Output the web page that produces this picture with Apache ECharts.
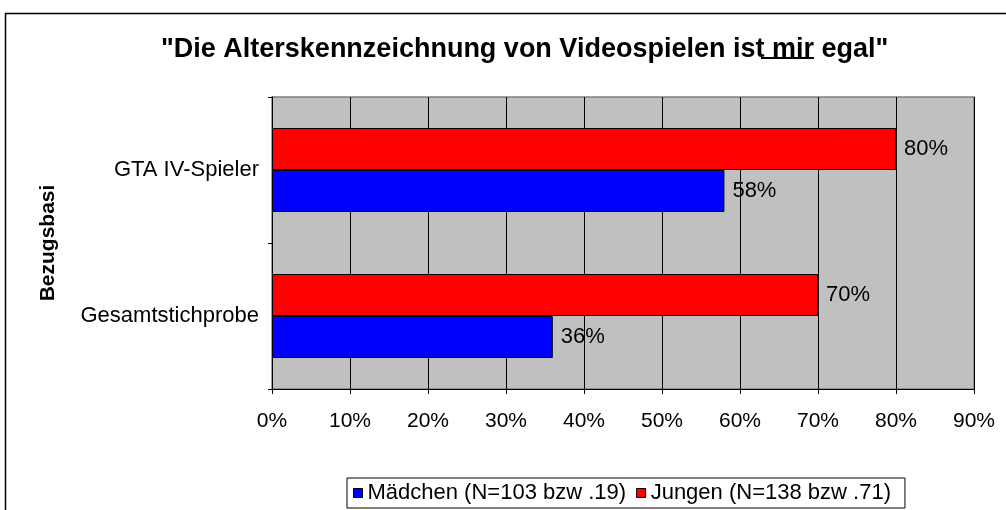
<!DOCTYPE html>
<html>
<head>
<meta charset="utf-8">
<title>Alterskennzeichnung</title>
<script src="https://cdn.jsdelivr.net/npm/echarts@6/dist/echarts.min.js"></script>
<style>
  html, body { margin: 0; padding: 0; background: #fff; }
  #chart { width: 1006px; height: 510px; }
</style>
</head>
<body>
<div id="chart"></div>
<script>
// Kategorien (von unten nach oben)
const categories = ['Gesamtstichprobe', 'GTA IV-Spieler'];
// Werte in Prozent
const maedchen = [36, 58];
const jungen = [70, 80];
const seriesNames = ['Mädchen (N=103 bzw .19)', 'Jungen (N=138 bzw .71)'];
const xTicks = [0, 10, 20, 30, 40, 50, 60, 70, 80, 90];

const font = 'Liberation Sans, Arial, sans-serif';
const chart = echarts.init(document.getElementById('chart'));

const labelStyle = {
  show: true,
  position: 'right',
  distance: 8,
  color: '#000',
  fontSize: 22,
  fontFamily: font,
  formatter: '{c}%'
};

const option = {
  backgroundColor: '#fff',
  animation: false,
  title: {
    text: '"Die Alterskennzeichnung von Videospielen ist mir egal"',
    left: 156,
    top: 31,
    textStyle: {
      fontFamily: font,
      fontWeight: 'bold',
      fontSize: 27,
      color: '#000'
    }
  },
  // Rahmen und Unterstreichung von "mir"
  graphic: [
    {
      type: 'rect',
      silent: true,
      z: -1,
      shape: { x: 5.5, y: 13.5, width: 1020, height: 520 },
      style: { fill: 'none', stroke: '#000', lineWidth: 1.5 }
    },
    {
      type: 'line',
      silent: true,
      shape: { x1: 761, y1: 58, x2: 814, y2: 58 },
      style: { stroke: '#000', lineWidth: 2 }
    }
  ],
  legend: {
    data: seriesNames,
    bottom: 2,
    left: 347,
    orient: 'horizontal',
    icon: 'rect',
    itemWidth: 9,
    itemHeight: 9,
    itemGap: 10,
    padding: [4, 14, 4, 6],
    borderColor: '#000',
    borderWidth: 1,
    itemStyle: { borderColor: '#000', borderWidth: 1 },
    textStyle: { fontFamily: font, fontSize: 22, color: '#000', padding: [0, 0, 0, 0] }
  },
  grid: {
    left: 272,
    right: 32,
    top: 97,
    bottom: 121,
    show: true,
    backgroundColor: '#c0c0c0',
    borderColor: '#808080',
    borderWidth: 1.5
  },
  xAxis: {
    type: 'value',
    min: 0,
    max: 90,
    interval: 10,
    axisLine: { show: true, lineStyle: { color: '#000', width: 1 } },
    axisTick: { show: true, inside: false, length: 5, lineStyle: { color: '#000' } },
    axisLabel: {
      margin: 22,
      color: '#000',
      fontSize: 21,
      fontFamily: font,
      formatter: function (v) {
        return xTicks.indexOf(v) >= 0 ? v + '%' : '';
      }
    },
    splitLine: { show: true, lineStyle: { color: '#000', width: 1 } }
  },
  yAxis: {
    type: 'category',
    data: categories,
    name: 'Bezugsbasi',
    nameLocation: 'middle',
    nameRotate: 90,
    nameGap: 213,
    nameTextStyle: { fontFamily: font, fontWeight: 'bold', fontSize: 21, color: '#000' },
    axisLine: { show: true, lineStyle: { color: '#000', width: 1 } },
    axisTick: { show: true, length: 4, lineStyle: { color: '#000' } },
    axisLabel: { margin: 13, color: '#000', fontSize: 22, fontFamily: font },
    splitLine: { show: false }
  },
  // Jungen zuerst, damit der rote Balken oben liegt
  series: [
    {
      name: seriesNames[1],
      type: 'bar',
      data: jungen,
      barGap: '0%',
      barCategoryGap: '42.5%',
      itemStyle: { color: '#ff0000', borderColor: '#000', borderWidth: 1 },
      label: labelStyle
    },
    {
      name: seriesNames[0],
      type: 'bar',
      data: maedchen,
      barGap: '0%',
      barCategoryGap: '42.5%',
      itemStyle: { color: '#0000ff', borderColor: '#000', borderWidth: 1 },
      label: labelStyle
    }
  ]
};

chart.setOption(option);
</script>
</body>
</html>
